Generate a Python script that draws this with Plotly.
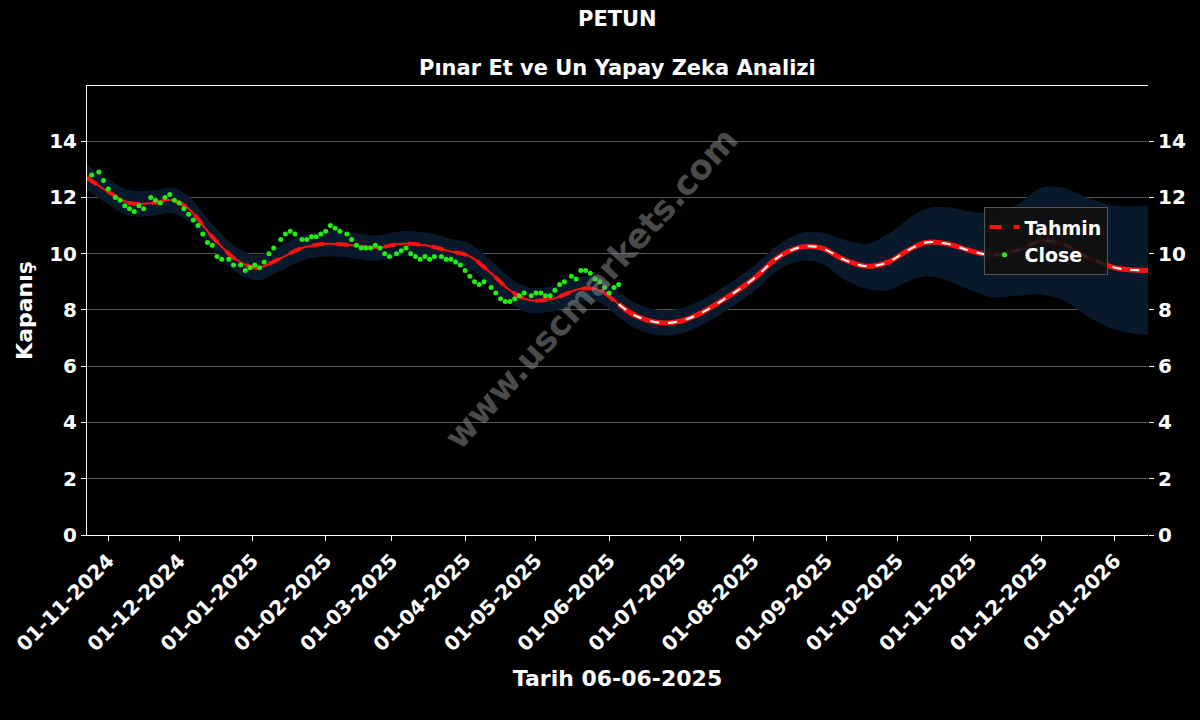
import plotly.graph_objects as go

# Close prices (green dots)
close_dates = ["2024-10-25", "2024-10-28", "2024-10-30", "2024-11-01", "2024-11-04", "2024-11-06",
               "2024-11-08", "2024-11-10", "2024-11-12", "2024-11-14", "2024-11-16", "2024-11-19",
               "2024-11-21", "2024-11-23", "2024-11-25", "2024-11-27", "2024-11-29", "2024-12-01",
               "2024-12-03", "2024-12-05", "2024-12-07", "2024-12-09", "2024-12-11", "2024-12-13",
               "2024-12-15", "2024-12-17", "2024-12-19", "2024-12-22", "2024-12-24", "2024-12-27",
               "2024-12-29", "2024-12-31", "2025-01-02", "2025-01-04", "2025-01-06", "2025-01-08",
               "2025-01-10", "2025-01-13", "2025-01-15", "2025-01-17", "2025-01-19", "2025-01-22",
               "2025-01-24", "2025-01-26", "2025-01-28", "2025-01-30", "2025-02-01", "2025-02-03",
               "2025-02-05", "2025-02-07", "2025-02-10", "2025-02-12", "2025-02-14", "2025-02-16",
               "2025-02-18", "2025-02-20", "2025-02-22", "2025-02-24", "2025-02-26", "2025-02-28",
               "2025-03-03", "2025-03-05", "2025-03-07", "2025-03-09", "2025-03-11", "2025-03-13",
               "2025-03-15", "2025-03-17", "2025-03-19", "2025-03-22", "2025-03-24", "2025-03-26",
               "2025-03-28", "2025-03-30", "2025-04-01", "2025-04-03", "2025-04-05", "2025-04-07",
               "2025-04-09", "2025-04-12", "2025-04-14", "2025-04-16", "2025-04-18", "2025-04-20",
               "2025-04-22", "2025-04-24", "2025-04-26", "2025-04-29", "2025-05-01", "2025-05-03",
               "2025-05-05", "2025-05-07", "2025-05-09", "2025-05-11", "2025-05-13", "2025-05-16",
               "2025-05-18", "2025-05-20", "2025-05-22", "2025-05-24", "2025-05-26", "2025-05-28",
               "2025-05-30", "2025-06-01", "2025-06-03", "2025-06-05"]
close_vals = [12.8, 12.9, 12.6, 12.3, 12.0, 11.9, 11.7, 11.6, 11.5, 11.7, 11.6, 12.0,
              11.9, 11.8, 12.0, 12.1, 11.9, 11.8, 11.6, 11.4, 11.2, 11.0, 10.7, 10.4,
              10.3, 9.9, 9.8, 9.8, 9.6, 9.6, 9.4, 9.5, 9.6, 9.5, 9.7, 10.0,
              10.2, 10.5, 10.7, 10.8, 10.7, 10.5, 10.5, 10.6, 10.6, 10.7, 10.8, 11.0,
              10.9, 10.8, 10.7, 10.5, 10.3, 10.2, 10.2, 10.2, 10.3, 10.2, 10.0, 9.9,
              10.0, 10.1, 10.2, 10.0, 9.9, 9.8, 9.9, 9.8, 9.9, 9.9, 9.8, 9.8,
              9.7, 9.6, 9.4, 9.2, 9.0, 8.9, 9.0, 8.8, 8.6, 8.4, 8.3, 8.3,
              8.4, 8.5, 8.6, 8.5, 8.6, 8.6, 8.5, 8.5, 8.7, 8.9, 9.0, 9.2,
              9.1, 9.4, 9.4, 9.3, 9.1, 9.0, 8.8, 8.6, 8.8, 8.9]

# Forecast (Tahmin) and its band half-width
pred_dates = ["2024-10-23", "2024-11-01", "2024-11-10", "2024-11-20", "2024-11-28", "2024-12-05",
              "2024-12-15", "2024-12-25", "2025-01-03", "2025-01-12", "2025-01-22", "2025-02-01",
              "2025-02-12", "2025-02-22", "2025-03-05", "2025-03-15", "2025-03-25", "2025-04-03",
              "2025-04-12", "2025-04-20", "2025-04-28", "2025-05-08", "2025-05-20", "2025-05-28",
              "2025-06-05", "2025-06-12", "2025-06-22", "2025-07-01", "2025-07-10", "2025-07-20",
              "2025-08-01", "2025-08-12", "2025-08-22", "2025-08-30", "2025-09-08", "2025-09-18",
              "2025-09-27", "2025-10-05", "2025-10-13", "2025-10-22", "2025-11-01", "2025-11-10",
              "2025-11-20", "2025-12-01", "2025-12-10", "2025-12-20", "2026-01-01", "2026-01-15"]
pred_vals = [12.7, 12.2, 11.8, 11.8, 11.9, 11.6, 10.6, 9.8, 9.5, 9.8, 10.2, 10.35,
             10.3, 10.2, 10.35, 10.3, 10.1, 9.9, 9.3, 8.7, 8.35, 8.4, 8.75, 8.7,
             8.2, 7.8, 7.55, 7.6, 7.9, 8.4, 9.1, 9.9, 10.25, 10.2, 9.8, 9.55,
             9.7, 10.1, 10.4, 10.35, 10.1, 9.95, 10.1, 10.45, 10.35, 9.9, 9.5, 9.4]
band = [0.45, 0.45, 0.45, 0.45, 0.45, 0.45, 0.45, 0.45, 0.45, 0.45, 0.45, 0.45,
        0.45, 0.45, 0.45, 0.45, 0.45, 0.45, 0.45, 0.45, 0.45, 0.45, 0.45, 0.45,
        0.45, 0.45, 0.45, 0.45, 0.45, 0.45, 0.45, 0.45, 0.5, 0.55, 0.7, 0.8,
        1.0, 1.1, 1.2, 1.3, 1.4, 1.5, 1.6, 1.9, 2.0, 2.1, 2.2, 2.3]

split = pred_dates.index("2025-06-05")
upper = [v + b for v, b in zip(pred_vals, band)]
lower = [v - b for v, b in zip(pred_vals, band)]

fig = go.Figure()
fig.add_trace(go.Scatter(x=pred_dates, y=upper, mode="lines", line=dict(width=0, shape="spline"),
                         showlegend=False, hoverinfo="skip"))
fig.add_trace(go.Scatter(x=pred_dates, y=lower, mode="lines", line=dict(width=0, shape="spline"),
                         fill="tonexty", fillcolor="#07192a", showlegend=False, hoverinfo="skip"))
fig.add_trace(go.Scatter(x=pred_dates, y=pred_vals, mode="lines", name="Tahmin",
                         line=dict(color="#ff1010", width=4, dash="dash", shape="spline")))
fig.add_trace(go.Scatter(x=pred_dates[:split + 1], y=pred_vals[:split + 1], mode="lines", showlegend=False,
                         line=dict(color="#ff1010", width=2, shape="spline")))
fig.add_trace(go.Scatter(x=pred_dates[split:], y=pred_vals[split:], mode="lines", showlegend=False,
                         line=dict(color="#ff1010", width=5, shape="spline")))
fig.add_trace(go.Scatter(x=pred_dates[split:], y=pred_vals[split:], mode="lines", showlegend=False,
                         line=dict(color="white", width=2, dash="dash", shape="spline")))
fig.add_trace(go.Scatter(x=close_dates, y=close_vals, mode="markers", name="Close",
                         marker=dict(color="#22ee11", size=5)))
# dummy trace for mirrored right axis
fig.add_trace(go.Scatter(x=[pred_dates[0]], y=[None], yaxis="y2", showlegend=False))

tick_dates = ["2024-11-01", "2024-12-01", "2025-01-01", "2025-02-01", "2025-03-01", "2025-04-01",
              "2025-05-01", "2025-06-01", "2025-07-01", "2025-08-01", "2025-09-01", "2025-10-01",
              "2025-11-01", "2025-12-01", "2026-01-01"]
tick_text = ["01-11-2024", "01-12-2024", "01-01-2025", "01-02-2025", "01-03-2025", "01-04-2025",
             "01-05-2025", "01-06-2025", "01-07-2025", "01-08-2025", "01-09-2025", "01-10-2025",
             "01-11-2025", "01-12-2025", "01-01-2026"]

tf = dict(family="DejaVu Sans", size=20, color="white", weight="bold")
fig.update_layout(
    width=1200, height=720, paper_bgcolor="black", plot_bgcolor="black",
    margin=dict(l=80, r=52, t=86, b=185),
    font=tf,
    xaxis=dict(range=["2024-10-23", "2026-01-15"], tickvals=tick_dates, ticktext=tick_text,
               tickangle=-45, showgrid=False, ticks="outside", tickcolor="white", ticklen=5,
               showline=True, linecolor="white", mirror=True, zeroline=False, tickfont=tf,
               title=dict(text="Tarih 06-06-2025", font=dict(size=22, weight="bold"))),
    yaxis=dict(range=[0, 15.96], dtick=2, gridcolor="#555", gridwidth=1, ticks="outside",
               tickcolor="white", showline=True, linecolor="white", zeroline=False, tickfont=tf,
               title=dict(text="Kapanış", font=dict(size=22, weight="bold"), standoff=10)),
    yaxis2=dict(range=[0, 15.96], dtick=2, overlaying="y", side="right", showgrid=False,
                ticks="outside", tickcolor="white", zeroline=False, tickfont=tf),
    legend=dict(x=0.845, y=0.73, xanchor="left", yanchor="top", bgcolor="rgba(15,15,15,0.9)",
                bordercolor="#555", borderwidth=1, traceorder="normal",
                font=dict(size=19, weight="bold")),
    annotations=[
        dict(text="PETUN", x=0.5, xref="paper", yref="paper", y=1.15, yanchor="middle",
             showarrow=False, font=dict(size=21, weight="bold")),
        dict(text="Pınar Et ve Un Yapay Zeka Analizi", x=0.5, xref="paper", yref="paper",
             y=1.04, yanchor="middle", showarrow=False, font=dict(size=21, weight="bold")),
        dict(text="<b>www.uscmarkets.com</b>", x=0.475, y=0.55, xref="paper", yref="paper",
             showarrow=False, textangle=-48, font=dict(size=34, color="rgba(140,140,140,0.55)")),
    ],
)
fig.write_html("out.html", config={"displayModeBar": False},
               post_script="document.body.style.margin='0';")
